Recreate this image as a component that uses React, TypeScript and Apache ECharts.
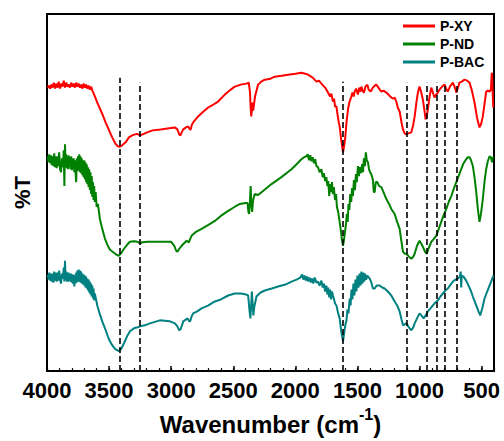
import React, { useEffect, useRef } from "react";
import * as echarts from "echarts";

// FTIR spectra: [wavenumber (cm-1), transmittance (arbitrary offset units)]
const seriesNames = ["P-XY", "P-ND", "P-BAC"];
const seriesColors = ["#ff0000", "#008000", "#008080"];

const pXY: number[][] = [
  [3995, 285], [3985, 287], [3975, 284], [3965, 288], [3955, 285], [3945, 290], [3935, 284], [3925, 289],
  [3915, 285], [3905, 291], [3895, 284], [3885, 289], [3875, 286], [3865, 292], [3855, 285], [3845, 290],
  [3835, 286], [3825, 288], [3815, 285], [3805, 290], [3795, 286], [3785, 289], [3775, 285], [3765, 290],
  [3755, 286], [3745, 289], [3735, 285], [3725, 288], [3715, 284], [3705, 289], [3695, 285], [3685, 288],
  [3675, 284], [3665, 287], [3655, 283], [3645, 286], [3635, 282], [3620, 278], [3595, 270], [3560, 260],
  [3528, 250], [3500, 242], [3475, 235], [3450, 229], [3430, 226], [3415, 225.5], [3395, 227], [3367, 230],
  [3340, 235], [3314, 237], [3290, 238], [3274, 238.5], [3250, 237], [3230, 238], [3193, 240], [3150, 242],
  [3085, 243], [3030, 244], [2970, 245], [2950, 243], [2935, 238], [2925, 237], [2915, 240], [2903, 243],
  [2880, 245], [2863, 246], [2850, 243], [2842, 243], [2835, 247], [2823, 250], [2783, 256], [2740, 261],
  [2702, 265], [2660, 268], [2622, 271], [2568, 278], [2520, 283], [2488, 286], [2440, 288], [2393, 289],
  [2375, 290], [2365, 280], [2360, 265], [2355, 256], [2350, 262], [2345, 270], [2340, 262], [2333, 268],
  [2325, 276], [2300, 288], [2275, 291], [2246, 293], [2200, 294], [2166, 296], [2110, 297], [2059, 298],
  [2000, 299], [1951, 300], [1920, 299], [1898, 298], [1860, 295], [1830, 291], [1810, 292], [1790, 289],
  [1760, 285], [1737, 280], [1720, 276], [1710, 279], [1697, 271], [1688, 274], [1680, 266], [1669, 266],
  [1660, 258], [1650, 250], [1643, 246], [1630, 232], [1616, 220], [1605, 228], [1597, 236], [1588, 250],
  [1576, 263], [1565, 270], [1549, 276], [1540, 280], [1530, 276], [1522, 281], [1510, 284], [1496, 278],
  [1485, 285], [1475, 281], [1468, 286], [1458, 282], [1447, 280], [1435, 286], [1420, 288], [1410, 283],
  [1393, 281], [1375, 285], [1360, 287], [1348, 288], [1330, 285], [1320, 283], [1307, 281], [1290, 282],
  [1267, 280], [1250, 278], [1227, 275], [1210, 274], [1200, 275], [1187, 271], [1175, 265], [1160, 261],
  [1145, 250], [1133, 243], [1120, 239], [1106, 238], [1090, 239], [1066, 240], [1050, 248], [1039, 256],
  [1025, 270], [1013, 280], [1000, 286], [990, 282], [973, 273], [960, 262], [951, 253], [942, 256],
  [933, 263], [920, 275], [905, 285], [892, 280], [879, 275], [865, 278], [852, 280], [838, 283],
  [825, 285], [810, 287], [798, 288], [785, 284], [772, 281], [755, 286], [731, 290], [715, 285],
  [704, 280], [690, 285], [678, 290], [660, 291], [637, 293], [615, 292], [597, 290], [578, 282],
  [557, 270], [537, 255], [517, 245], [505, 248], [490, 256], [475, 270], [463, 281], [450, 282],
  [436, 281], [425, 283], [418, 300], [414, 295], [410, 278], [406, 265],
];

const pND: number[][] = [
  [3995, 216], [3988, 210], [3982, 218], [3975, 209], [3968, 217], [3962, 207], [3955, 216], [3948, 206],
  [3942, 219], [3935, 205], [3928, 216], [3922, 204], [3915, 216], [3908, 206], [3902, 220], [3895, 203],
  [3887, 200], [3880, 214], [3872, 205], [3865, 222], [3860, 186], [3855, 228], [3850, 206], [3845, 218],
  [3840, 204], [3835, 216], [3830, 203], [3825, 217], [3820, 205], [3815, 215], [3810, 203], [3805, 216],
  [3800, 202], [3795, 214], [3790, 203], [3785, 214], [3780, 200], [3775, 212], [3770, 200], [3765, 190],
  [3760, 214], [3755, 201], [3750, 216], [3745, 202], [3740, 218], [3735, 200], [3730, 216], [3725, 199],
  [3720, 214], [3715, 197], [3710, 212], [3705, 195], [3700, 212], [3695, 193], [3690, 210], [3685, 190],
  [3680, 208], [3675, 188], [3670, 205], [3665, 185], [3660, 203], [3655, 182], [3650, 200], [3645, 178],
  [3640, 196], [3635, 175], [3630, 190], [3625, 172], [3620, 186], [3615, 170], [3608, 180], [3600, 165],
  [3590, 168], [3574, 153], [3555, 143], [3533, 133], [3510, 126], [3493, 122],
  [3461, 119], [3440, 117], [3421, 116], [3400, 119], [3380, 123], [3355, 127], [3332, 130], [3300, 130.5],
  [3270, 130], [3250, 128.5], [3230, 129.5], [3190, 130], [3091, 130], [3000, 130], [2975, 126], [2960, 121],
  [2949, 120], [2935, 123], [2916, 126], [2876, 131], [2865, 130], [2858, 129.5], [2850, 132], [2836, 136],
  [2800, 140], [2755, 143], [2700, 147], [2648, 151], [2600, 156], [2541, 161], [2490, 165], [2447, 168],
  [2400, 169], [2385, 169], [2378, 160], [2372, 158], [2365, 172], [2360, 186], [2355, 170], [2348, 160],
  [2340, 172], [2327, 178], [2300, 177], [2260, 181], [2192, 188], [2112, 195], [2031, 203], [1990, 208],
  [1951, 213], [1930, 215], [1911, 216], [1900, 218], [1890, 212], [1880, 217], [1870, 211], [1860, 215],
  [1850, 209], [1840, 213], [1830, 206], [1817, 205], [1805, 200], [1790, 203], [1780, 195], [1770, 199],
  [1760, 191], [1750, 195], [1742, 186], [1735, 191], [1727, 176], [1720, 188], [1712, 180], [1705, 190],
  [1697, 178], [1690, 185], [1680, 172], [1672, 178], [1665, 165], [1655, 160], [1643, 150], [1632, 140],
  [1625, 132], [1616, 126], [1608, 132], [1600, 140], [1592, 148], [1585, 158], [1578, 150], [1572, 168],
  [1565, 162], [1558, 178], [1550, 170], [1543, 184], [1536, 176], [1528, 192], [1520, 182], [1512, 198],
  [1505, 190], [1496, 206], [1488, 196], [1480, 205], [1470, 199], [1462, 208], [1455, 200], [1448, 214],
  [1440, 206], [1432, 220], [1425, 212], [1415, 210], [1407, 203], [1398, 200], [1388, 198], [1375, 192],
  [1368, 180], [1361, 180], [1352, 190], [1340, 190], [1325, 186], [1307, 185], [1290, 180], [1267, 173],
  [1245, 168], [1227, 163], [1200, 158], [1180, 150], [1160, 143], [1145, 130], [1133, 120], [1120, 118],
  [1106, 118], [1085, 115], [1066, 113], [1050, 115], [1039, 118], [1020, 126], [1000, 131], [985, 128],
  [973, 125], [955, 120], [941, 118], [925, 124], [905, 130], [885, 133], [865, 136], [845, 143],
  [825, 150], [805, 157], [784, 163], [765, 170], [744, 176], [725, 183], [704, 190], [685, 196],
  [664, 203], [645, 209], [624, 213], [610, 215], [597, 215], [585, 212], [570, 206], [555, 193],
  [543, 180], [530, 163], [517, 150], [505, 158], [490, 173], [475, 192], [463, 203], [450, 211],
  [436, 216], [425, 215], [416, 210], [409, 215], [404, 214],
];

const pBAC: number[][] = [
  [3995, 97], [3988, 92], [3982, 99], [3975, 91], [3968, 98], [3962, 90], [3955, 98], [3948, 89],
  [3942, 100], [3935, 91], [3928, 99], [3922, 90], [3915, 99], [3908, 91], [3902, 101], [3895, 92],
  [3887, 88], [3880, 98], [3872, 93], [3865, 104], [3860, 90], [3855, 111], [3850, 92], [3845, 100],
  [3840, 90], [3835, 99], [3830, 90], [3825, 99], [3820, 91], [3815, 98], [3810, 90], [3805, 98],
  [3800, 89], [3795, 97], [3790, 88], [3785, 97], [3780, 85], [3775, 96], [3770, 88], [3765, 99],
  [3760, 89], [3755, 101], [3750, 90], [3745, 102], [3740, 90], [3735, 101], [3730, 89], [3725, 100],
  [3720, 88], [3715, 98], [3710, 87], [3705, 97], [3700, 86], [3695, 96], [3690, 84], [3685, 95],
  [3680, 83], [3675, 93], [3670, 81], [3665, 92], [3660, 79], [3655, 90], [3650, 77], [3645, 88],
  [3640, 75], [3635, 86], [3630, 73], [3625, 83], [3620, 71], [3615, 78], [3605, 72], [3595, 66],
  [3574, 57], [3555, 50], [3533, 43], [3510, 35], [3493, 30], [3475, 26],
  [3450, 22], [3421, 20], [3400, 23], [3380, 28], [3355, 35], [3332, 40], [3300, 43], [3270, 44],
  [3250, 45], [3212, 46], [3171, 48], [3091, 51], [3010, 50], [2970, 48], [2950, 45], [2935, 41],
  [2925, 42], [2910, 47], [2903, 50], [2868, 53], [2855, 50], [2848, 50], [2835, 55], [2823, 58],
  [2790, 60], [2755, 63], [2700, 66], [2648, 70], [2600, 72], [2541, 76], [2488, 78], [2440, 78],
  [2395, 77], [2380, 76], [2370, 62], [2362, 53], [2355, 68], [2350, 80], [2344, 68], [2338, 56],
  [2330, 65], [2313, 75], [2280, 79], [2246, 81], [2190, 83], [2139, 85], [2080, 87], [2031, 90],
  [1990, 92], [1960, 94], [1945, 97], [1935, 92], [1925, 96], [1915, 91], [1905, 95], [1895, 90],
  [1885, 94], [1875, 89], [1865, 93], [1855, 88], [1844, 94], [1830, 89], [1817, 90], [1805, 86],
  [1790, 91], [1780, 84], [1770, 88], [1760, 80], [1750, 86], [1742, 77], [1735, 84], [1727, 74],
  [1720, 82], [1712, 72], [1705, 80], [1697, 76], [1690, 73], [1680, 68], [1669, 66], [1655, 58],
  [1643, 53], [1630, 40], [1616, 30], [1605, 40], [1595, 48], [1589, 50], [1580, 62], [1572, 58],
  [1562, 73], [1555, 66], [1548, 82], [1540, 72], [1532, 88], [1524, 76], [1516, 92], [1508, 80],
  [1500, 96], [1492, 84], [1482, 98], [1475, 86], [1468, 100], [1460, 88], [1452, 99], [1445, 90],
  [1438, 98], [1430, 92], [1420, 96], [1410, 94], [1401, 93], [1390, 90], [1375, 83], [1361, 83],
  [1345, 86], [1330, 86], [1321, 86], [1300, 84], [1281, 83], [1255, 80], [1227, 76], [1200, 70],
  [1180, 66], [1160, 60], [1145, 52], [1133, 46], [1120, 47], [1106, 48], [1085, 44], [1066, 41],
  [1050, 44], [1039, 48], [1020, 53], [1000, 58], [985, 56], [967, 53], [950, 56], [933, 60],
  [912, 63], [892, 66], [872, 69], [852, 71], [832, 75], [812, 78], [792, 81], [772, 83],
  [750, 87], [731, 90], [710, 92], [691, 93], [675, 95], [668, 100], [664, 84], [660, 96],
  [645, 95], [624, 91], [605, 86], [584, 80], [565, 73], [543, 66], [525, 60], [511, 56],
  [495, 63], [476, 73], [455, 80], [436, 86], [420, 91], [404, 96],
];

// dashed guide lines: position (cm-1) and top end (y units)
const guidePositions = [3415, 3250, 1616, 1105, 940, 865, 800, 700];
const guideTops = [295, 290, 291, 290, 290, 290, 290, 290];

const majorTicks = [4000, 3500, 3000, 2500, 2000, 1500, 1000, 500];

const FONT = "'Liberation Sans', Arial, sans-serif";

export default function App() {
  const ref = useRef<HTMLDivElement>(null);
  useEffect(() => {
    document.body.style.margin = "0";
    if (!ref.current) return;
    const chart = echarts.init(ref.current, null, { renderer: "svg" });
    const data = [pXY, pND, pBAC];
    chart.setOption({
      animation: false,
      grid: { left: 47, right: 10, top: 14, bottom: 68, show: true, borderColor: "#000", borderWidth: 2, backgroundColor: "transparent" },
      legend: {
        data: seriesNames,
        orient: "vertical",
        left: 398,
        top: 14,
        icon: "rect",
        itemWidth: 32,
        itemHeight: 3,
        itemGap: 4,
        textStyle: { fontFamily: FONT, fontWeight: "bold", fontSize: 14, color: "#000" },
      },
      xAxis: [
        {
          type: "value",
          min: 400,
          max: 4000,
          inverse: true,
          position: "bottom",
          axisLine: { show: false },
          splitLine: { show: false },
          axisTick: { show: true, inside: true, length: 5, customValues: majorTicks, lineStyle: { color: "#000", width: 1.5 } },
          axisLabel: {
            customValues: majorTicks,
            formatter: (v: number) => String(v),
            fontFamily: FONT,
            fontWeight: "bold",
            fontSize: 22,
            color: "#000",
            margin: 8,
          },
          name: "{a|Wavenumber (cm}{s|-1}{a|)}",
          nameLocation: "middle",
          nameGap: 21,
          nameTextStyle: {
            rich: {
              a: { fontFamily: FONT, fontWeight: "bold", fontSize: 24, color: "#000", lineHeight: 30, verticalAlign: "bottom" },
              s: { fontFamily: FONT, fontWeight: "bold", fontSize: 16, color: "#000", lineHeight: 16, verticalAlign: "top" },
            },
          },
        },
        {
          type: "value",
          min: 400,
          max: 4000,
          interval: 100,
          inverse: true,
          position: "bottom",
          axisLine: { show: false },
          splitLine: { show: false },
          axisTick: { show: true, inside: true, length: 3, lineStyle: { color: "#000", width: 1.2 } },
          axisLabel: { show: false },
        },
      ],
      yAxis: {
        type: "value",
        min: 0,
        max: 359,
        axisLine: { show: false },
        axisTick: { show: false },
        axisLabel: { show: false },
        splitLine: { show: false },
        name: "%T",
        nameLocation: "middle",
        nameGap: 14,
        nameTextStyle: { fontFamily: FONT, fontWeight: "bold", fontSize: 22, color: "#000" },
      },
      series: [
        ...seriesNames.map((n, i) => ({
          name: n,
          type: "line",
          xAxisIndex: 0,
          data: data[i],
          symbol: "none",
          color: seriesColors[i],
          lineStyle: { width: 2, color: seriesColors[i] },
          z: 2,
        })),
        {
          name: "guides",
          type: "line",
          xAxisIndex: 0,
          data: [],
          symbol: "none",
          z: 5,
          markLine: {
            silent: true,
            symbol: ["none", "none"],
            label: { show: false },
            lineStyle: { type: [6, 3], color: "#000", width: 1.6 },
            data: guidePositions.map((p, i) => [{ coord: [p, 0] }, { coord: [p, guideTops[i]] }]),
          },
        },
      ],
    });
    return () => chart.dispose();
  }, []);
  return <div ref={ref} style={{ width: 504, height: 441 }} />;
}
